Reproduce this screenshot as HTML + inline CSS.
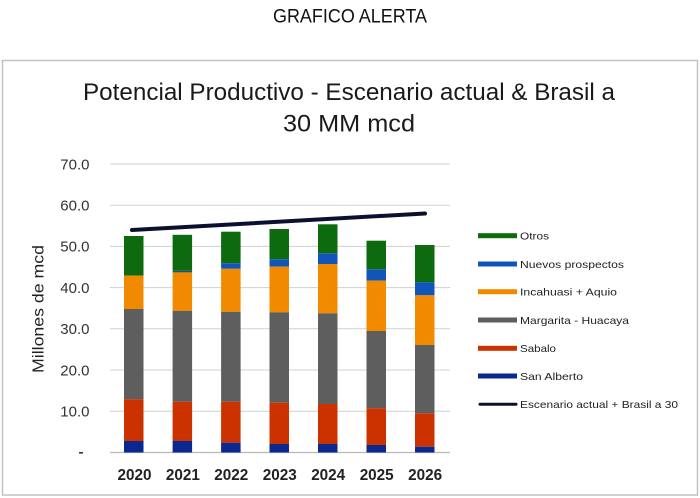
<!DOCTYPE html>
<html>
<head>
<meta charset="utf-8">
<style>
html,body{margin:0;padding:0;background:#fff;}
body{width:700px;height:498px;overflow:hidden;}
svg{display:block;}
text{font-family:"Liberation Sans",sans-serif;}
</style>
</head>
<body>
<svg width="700" height="498" viewBox="0 0 700 498" xmlns="http://www.w3.org/2000/svg">
  <rect x="0" y="0" width="700" height="498" fill="#ffffff"/>
  <!-- page heading -->
  <text x="273" y="22.7" font-size="19" fill="#111" textLength="154" lengthAdjust="spacingAndGlyphs">GRAFICO ALERTA</text>

  <!-- chart frame -->
  <rect x="2.5" y="60.5" width="695" height="434.5" fill="#fff" stroke="#c2c2c2" stroke-width="1.5"/>

  <!-- chart title -->
  <text x="83" y="100" font-size="24" fill="#1a1a1a" textLength="532" lengthAdjust="spacingAndGlyphs">Potencial Productivo - Escenario actual &amp; Brasil a</text>
  <text x="283" y="131.7" font-size="24" fill="#1a1a1a" textLength="132" lengthAdjust="spacingAndGlyphs">30 MM mcd</text>

  <!-- gridlines -->
  <g stroke="#d0d0d0" stroke-width="1">
    <line x1="110" y1="164" x2="450" y2="164"/>
    <line x1="110" y1="205.2" x2="450" y2="205.2"/>
    <line x1="110" y1="246.4" x2="450" y2="246.4"/>
    <line x1="110" y1="287.6" x2="450" y2="287.6"/>
    <line x1="110" y1="328.8" x2="450" y2="328.8"/>
    <line x1="110" y1="370" x2="450" y2="370"/>
    <line x1="110" y1="411.2" x2="450" y2="411.2"/>
  </g>
  <line x1="110" y1="452.5" x2="450" y2="452.5" stroke="#b8b8b8" stroke-width="1.2"/>

  <!-- y tick labels -->
  <g font-size="15" fill="#333" text-anchor="end">
    <text x="89.5" y="169.3">70.0</text>
    <text x="89.5" y="210.5">60.0</text>
    <text x="89.5" y="251.7">50.0</text>
    <text x="89.5" y="292.9">40.0</text>
    <text x="89.5" y="334.1">30.0</text>
    <text x="89.5" y="375.3">20.0</text>
    <text x="89.5" y="416.5">10.0</text>
  </g>
  <rect x="79" y="452" width="4" height="1.6" fill="#333"/>

  <!-- y axis title -->
  <text transform="translate(43.5,309) rotate(-90)" x="-64" y="0" font-size="15.5" fill="#222" textLength="128" lengthAdjust="spacingAndGlyphs">Millones de mcd</text>

  <!-- bars -->
  <!-- 2020 -->
  <g>
    <rect x="124" y="236" width="19.5" height="39.7" fill="#0e6a0e"/>
    <rect x="124" y="275.7" width="19.5" height="33.3" fill="#f28a00"/>
    <rect x="124" y="309" width="19.5" height="90.3" fill="#5e5e5e"/>
    <rect x="124" y="399.3" width="19.5" height="41.7" fill="#cc3200"/>
    <rect x="124" y="441" width="19.5" height="11.5" fill="#0a2890"/>
  </g>
  <!-- 2021 -->
  <g>
    <rect x="172.6" y="234.8" width="19.5" height="36" fill="#0e6a0e"/>
    <rect x="172.6" y="270.8" width="19.5" height="1.6" fill="#1a4f80"/>
    <rect x="172.6" y="272.4" width="19.5" height="38.4" fill="#f28a00"/>
    <rect x="172.6" y="310.8" width="19.5" height="90.9" fill="#5e5e5e"/>
    <rect x="172.6" y="401.7" width="19.5" height="39.3" fill="#cc3200"/>
    <rect x="172.6" y="441" width="19.5" height="11.5" fill="#0a2890"/>
  </g>
  <!-- 2022 -->
  <g>
    <rect x="221.1" y="231.7" width="19.5" height="31.6" fill="#0e6a0e"/>
    <rect x="221.1" y="263.3" width="19.5" height="5.5" fill="#1155b8"/>
    <rect x="221.1" y="268.8" width="19.5" height="43" fill="#f28a00"/>
    <rect x="221.1" y="311.8" width="19.5" height="89.9" fill="#5e5e5e"/>
    <rect x="221.1" y="401.7" width="19.5" height="41" fill="#cc3200"/>
    <rect x="221.1" y="442.7" width="19.5" height="9.8" fill="#0a2890"/>
  </g>
  <!-- 2023 -->
  <g>
    <rect x="269.5" y="229" width="19.5" height="30.3" fill="#0e6a0e"/>
    <rect x="269.5" y="259.3" width="19.5" height="7.4" fill="#1155b8"/>
    <rect x="269.5" y="266.7" width="19.5" height="45.6" fill="#f28a00"/>
    <rect x="269.5" y="312.3" width="19.5" height="90.4" fill="#5e5e5e"/>
    <rect x="269.5" y="402.7" width="19.5" height="41.3" fill="#cc3200"/>
    <rect x="269.5" y="444" width="19.5" height="8.5" fill="#0a2890"/>
  </g>
  <!-- 2024 -->
  <g>
    <rect x="318" y="224.3" width="19.5" height="29" fill="#0e6a0e"/>
    <rect x="318" y="253.3" width="19.5" height="10.7" fill="#1155b8"/>
    <rect x="318" y="264" width="19.5" height="49.3" fill="#f28a00"/>
    <rect x="318" y="313.3" width="19.5" height="90.7" fill="#5e5e5e"/>
    <rect x="318" y="404" width="19.5" height="40" fill="#cc3200"/>
    <rect x="318" y="444" width="19.5" height="8.5" fill="#0a2890"/>
  </g>
  <!-- 2025 -->
  <g>
    <rect x="366.5" y="240.7" width="19.5" height="28.6" fill="#0e6a0e"/>
    <rect x="366.5" y="269.3" width="19.5" height="11.4" fill="#1155b8"/>
    <rect x="366.5" y="280.7" width="19.5" height="50.3" fill="#f28a00"/>
    <rect x="366.5" y="331" width="19.5" height="77.3" fill="#5e5e5e"/>
    <rect x="366.5" y="408.3" width="19.5" height="36.7" fill="#cc3200"/>
    <rect x="366.5" y="445" width="19.5" height="7.5" fill="#0a2890"/>
  </g>
  <!-- 2026 -->
  <g>
    <rect x="415" y="245" width="19.5" height="37.3" fill="#0e6a0e"/>
    <rect x="415" y="282.3" width="19.5" height="13" fill="#1155b8"/>
    <rect x="415" y="295.3" width="19.5" height="49.7" fill="#f28a00"/>
    <rect x="415" y="345" width="19.5" height="68.3" fill="#5e5e5e"/>
    <rect x="415" y="413.3" width="19.5" height="33.4" fill="#cc3200"/>
    <rect x="415" y="446.7" width="19.5" height="5.8" fill="#0a2890"/>
  </g>

  <!-- line series -->
  <line x1="132" y1="230" x2="425" y2="213.5" stroke="#0b1030" stroke-width="4" stroke-linecap="round"/>

  <!-- x tick labels -->
  <g font-size="15.5" fill="#222" text-anchor="middle" font-weight="bold">
    <text x="134.5" y="480" textLength="34" lengthAdjust="spacingAndGlyphs">2020</text>
    <text x="182.9" y="480" textLength="34" lengthAdjust="spacingAndGlyphs">2021</text>
    <text x="231.3" y="480" textLength="34" lengthAdjust="spacingAndGlyphs">2022</text>
    <text x="279.8" y="480" textLength="34" lengthAdjust="spacingAndGlyphs">2023</text>
    <text x="328.2" y="480" textLength="34" lengthAdjust="spacingAndGlyphs">2024</text>
    <text x="376.7" y="480" textLength="34" lengthAdjust="spacingAndGlyphs">2025</text>
    <text x="425.1" y="480" textLength="34" lengthAdjust="spacingAndGlyphs">2026</text>
  </g>

  <!-- legend -->
  <g font-size="10.5" fill="#222">
    <rect x="478" y="233.2" width="39" height="5" fill="#0e6a0e"/>
    <text x="520" y="239.5" textLength="29" lengthAdjust="spacingAndGlyphs">Otros</text>

    <rect x="478" y="261.5" width="39" height="5" fill="#1155b8"/>
    <text x="520" y="267.8" textLength="104" lengthAdjust="spacingAndGlyphs">Nuevos prospectos</text>

    <rect x="478" y="289.2" width="39" height="5" fill="#f28a00"/>
    <text x="520" y="295.5" textLength="97" lengthAdjust="spacingAndGlyphs">Incahuasi + Aquio</text>

    <rect x="478" y="317.5" width="39" height="5" fill="#5e5e5e"/>
    <text x="520" y="323.8" textLength="109" lengthAdjust="spacingAndGlyphs">Margarita - Huacaya</text>

    <rect x="478" y="345.8" width="39" height="5" fill="#cc3200"/>
    <text x="520" y="352.1" textLength="36" lengthAdjust="spacingAndGlyphs">Sabalo</text>

    <rect x="478" y="373.5" width="39" height="5" fill="#0a2890"/>
    <text x="520" y="379.8" textLength="63" lengthAdjust="spacingAndGlyphs">San Alberto</text>

    <line x1="480" y1="404.3" x2="516" y2="404.3" stroke="#0b1030" stroke-width="3" stroke-linecap="round"/>
    <text x="520" y="408.1" textLength="158" lengthAdjust="spacingAndGlyphs">Escenario actual + Brasil a 30</text>
  </g>
</svg>
</body>
</html>
